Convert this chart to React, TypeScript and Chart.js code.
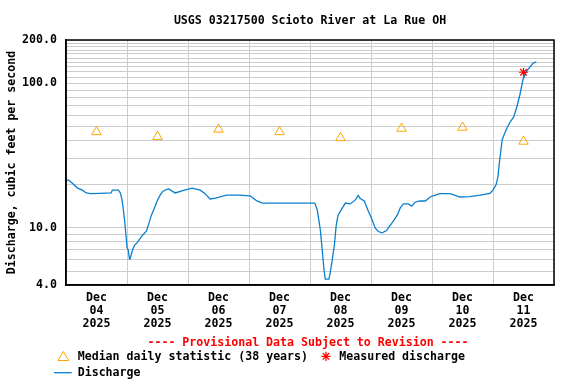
import React, { useEffect, useRef } from 'react';
import { Chart, registerables } from 'chart.js';

Chart.register(...registerables);

const TITLE = 'USGS 03217500 Scioto River at La Rue OH';
const Y_TITLE = 'Discharge, cubic feet per second';
const PROVISIONAL = '---- Provisional Data Subject to Revision ----';
const LEGEND_MEDIAN = 'Median daily statistic (38 years)';
const LEGEND_MEASURED = 'Measured discharge';
const LEGEND_DISCHARGE = 'Discharge';

const MONTH = 'Dec';
const YEAR = '2025';
const DAY_LABELS = ['04', '05', '06', '07', '08', '09', '10', '11'];

// time in days since Dec 04 2025 00:00
const DISCHARGE_T = [
  0.005, 0.04, 0.1, 0.19, 0.27, 0.33, 0.4, 0.56, 0.74, 0.76, 0.86, 0.89, 0.92, 0.96, 0.99, 1.0,
  1.02, 1.04, 1.05, 1.07, 1.09, 1.12, 1.17, 1.24, 1.27, 1.32, 1.35, 1.4, 1.45, 1.5, 1.55, 1.59,
  1.68, 1.74, 1.79, 1.94, 2.07, 2.2, 2.28, 2.36, 2.45, 2.63, 2.82, 3.02, 3.13, 3.22, 3.51, 3.84,
  4.08, 4.12, 4.17, 4.2, 4.23, 4.25, 4.31, 4.33, 4.36, 4.4, 4.43, 4.46, 4.53, 4.58, 4.66, 4.74,
  4.79, 4.82, 4.89, 4.95, 5.02, 5.07, 5.12, 5.18, 5.25, 5.31, 5.38, 5.43, 5.48, 5.53, 5.61, 5.67,
  5.72, 5.8, 5.89, 5.97, 6.05, 6.13, 6.3, 6.46, 6.62, 6.79, 6.95, 7.0, 7.05, 7.08, 7.1, 7.12,
  7.15, 7.18, 7.23, 7.28, 7.34, 7.39, 7.44, 7.49, 7.54, 7.61, 7.66, 7.71,
];
// discharge, cubic feet per second
const DISCHARGE_Q = [
  21.1, 21.4, 20.4, 18.8, 18.2, 17.4, 17.2, 17.3, 17.4, 18.2, 18.2, 17.4, 15.5, 11.3, 8.2, 7.3,
  7.0, 6.06, 6.06, 6.5, 7.0, 7.5, 7.9, 8.7, 9.0, 9.5, 10.4, 12.2, 13.7, 15.5, 17.0, 17.9,
  18.6, 17.9, 17.4, 18.2, 18.8, 18.2, 17.2, 15.8, 16.0, 16.8, 16.8, 16.6, 15.3, 14.8, 14.8, 14.8,
  14.8, 13.2, 9.6, 7.0, 5.08, 4.4, 4.4, 4.84, 5.8, 7.6, 10.4, 12.2, 13.7, 14.8, 14.6, 15.5,
  16.7, 16.0, 15.3, 13.2, 11.3, 9.9, 9.4, 9.2, 9.5, 10.3, 11.3, 12.2, 13.7, 14.6, 14.6, 14.1,
  15.0, 15.3, 15.3, 16.3, 16.8, 17.2, 17.2, 16.3, 16.4, 16.8, 17.3, 18.2, 19.8, 22.4, 27.2, 31.9,
  40.5, 43.9, 49.1, 54.0, 58.5, 68.6, 83.1, 105.6, 120, 130.6, 138.5, 140.8,
];

const MEDIAN_T = [0.5, 1.5, 2.5, 3.5, 4.5, 5.5, 6.5, 7.5];
const MEDIAN_Q = [46.1, 42.7, 48.0, 46.1, 41.9, 48.7, 49.5, 39.6];

const MEASURED_T = [7.5];
const MEASURED_Q = [119.5];

const X_TICKS = [0, 0.5, 1, 1.5, 2, 2.5, 3, 3.5, 4, 4.5, 5, 5.5, 6, 6.5, 7, 7.5, 8];
const Y_GRID = [
  4, 5, 6, 7, 8, 9, 10, 20, 30, 40, 50, 60, 70, 80, 90, 100,
  110, 120, 130, 140, 150, 160, 170, 180, 190, 200,
];
const Y_LABELED = [4, 10, 100, 200];
const Y_LABELS = ['4.0', '10.0', '100.0', '200.0'];

const FAMILY = '"DejaVu Sans Mono", "Liberation Mono", monospace';
const FONT = 'bold 11.6px ' + FAMILY;
const GRID = '#cccccc';
const BLUE = '#0a7fd0';
const ORANGE = '#ffa500';
const RED = '#ff0000';

const decorPlugin = {
  id: 'decor',
  afterDraw(chart: any) {
    const { ctx, chartArea: a } = chart;
    ctx.save();
    ctx.strokeStyle = '#000';
    ctx.lineWidth = 1.5;
    ctx.strokeRect(a.left, a.top, a.right - a.left, a.bottom - a.top);

    const cx = (a.left + a.right) / 2;
    ctx.font = FONT;
    ctx.textBaseline = 'middle';
    ctx.textAlign = 'center';
    ctx.fillStyle = '#000';
    ctx.fillText(TITLE, cx, 20.5);
    ctx.fillStyle = RED;
    ctx.fillText(PROVISIONAL, cx - 2, 342.7);

    // legend
    ctx.textAlign = 'left';
    ctx.fillStyle = '#000';
    ctx.fillText(LEGEND_MEDIAN, 77.7, 357);
    ctx.fillText(LEGEND_MEASURED, 339.3, 357);
    ctx.fillText(LEGEND_DISCHARGE, 77.7, 373);

    // triangle symbol
    ctx.strokeStyle = ORANGE;
    ctx.lineWidth = 1;
    ctx.beginPath();
    ctx.moveTo(63.3, 351.5);
    ctx.lineTo(68.8, 360.5);
    ctx.lineTo(57.8, 360.5);
    ctx.closePath();
    ctx.stroke();

    // asterisk symbol
    ctx.strokeStyle = RED;
    ctx.lineWidth = 1.2;
    const sx = 326, sy = 356.3, r = 4.6;
    ctx.beginPath();
    ctx.moveTo(sx, sy - r); ctx.lineTo(sx, sy + r);
    ctx.moveTo(sx - r, sy); ctx.lineTo(sx + r, sy);
    const d = r * Math.SQRT1_2;
    ctx.moveTo(sx - d, sy - d); ctx.lineTo(sx + d, sy + d);
    ctx.moveTo(sx - d, sy + d); ctx.lineTo(sx + d, sy - d);
    ctx.stroke();

    // line symbol
    ctx.strokeStyle = BLUE;
    ctx.lineWidth = 1.3;
    ctx.beginPath();
    ctx.moveTo(54, 372.7);
    ctx.lineTo(71.7, 372.7);
    ctx.stroke();
    ctx.restore();
  },
};

export default function App() {
  const ref = useRef<HTMLCanvasElement>(null);

  useEffect(() => {
    document.body.style.margin = '0';
    const canvas = ref.current;
    if (!canvas) return;

    const chart = new Chart(canvas, {
      type: 'line',
      data: {
        datasets: [
          {
            label: LEGEND_MEASURED,
            data: MEASURED_T.map((t, i) => ({ x: t, y: MEASURED_Q[i] })),
            showLine: false,
            pointStyle: 'star',
            pointRadius: 4.6,
            borderColor: RED,
            backgroundColor: RED,
            pointBorderWidth: 1.2,
            order: 0,
          },
          {
            label: LEGEND_MEDIAN,
            data: MEDIAN_T.map((t, i) => ({ x: t, y: MEDIAN_Q[i] })),
            showLine: false,
            pointStyle: 'triangle',
            pointRadius: 5.5,
            borderColor: ORANGE,
            backgroundColor: 'rgba(0,0,0,0)',
            pointBorderWidth: 1,
            order: 1,
          },
          {
            label: LEGEND_DISCHARGE,
            data: DISCHARGE_T.map((t, i) => ({ x: t, y: DISCHARGE_Q[i] })),
            borderColor: BLUE,
            borderWidth: 1.3,
            pointRadius: 0,
            tension: 0,
            fill: false,
            order: 2,
          },
        ],
      },
      options: {
        animation: false,
        responsive: false,
        maintainAspectRatio: false,
        layout: { padding: { top: 40, right: 22, bottom: 0, left: 0 } },
        plugins: {
          legend: { display: false },
          title: { display: false },
          tooltip: { enabled: false },
        },
        scales: {
          x: {
            type: 'linear',
            min: 0,
            max: 8,
            afterBuildTicks: (scale: any) => {
              scale.ticks = X_TICKS.map((v) => ({ value: v }));
            },
            afterFit: (scale: any) => {
              scale.height = 99;
            },
            grid: {
              drawTicks: false,
              color: (c: any) =>
                c.tick && Number.isInteger(c.tick.value) ? GRID : 'rgba(0,0,0,0)',
              lineWidth: 1,
            },
            border: { display: true, color: '#000', width: 1.5 },
            ticks: {
              autoSkip: false,
              maxRotation: 0,
              minRotation: 0,
              padding: 6.5,
              color: '#000',
              font: { family: FAMILY, size: 11.6, weight: 'bold', lineHeight: '13px' },
              callback: (v: any) => {
                const n = Number(v);
                if (Number.isInteger(n)) return '';
                const idx = Math.floor(n);
                return [MONTH, DAY_LABELS[idx] ?? '', YEAR];
              },
            },
          },
          y: {
            type: 'logarithmic',
            min: 4,
            max: 200,
            afterBuildTicks: (scale: any) => {
              scale.ticks = Y_GRID.map((v) => ({ value: v }));
            },
            afterFit: (scale: any) => {
              scale.width = 66;
            },
            grid: { drawTicks: false, color: GRID, lineWidth: 1 },
            border: { display: true, color: '#000', width: 1.5 },
            title: {
              display: true,
              text: Y_TITLE,
              color: '#000',
              font: { family: FAMILY, size: 11.6, weight: 'bold', lineHeight: '13px' },
              padding: { top: 5, bottom: 0 },
            },
            ticks: {
              autoSkip: false,
              padding: 9,
              color: '#000',
              font: { family: FAMILY, size: 11.6, weight: 'bold', lineHeight: '13px' },
              callback: (v: any) => {
                const i = Y_LABELED.indexOf(Number(v));
                return i >= 0 ? Y_LABELS[i] : '';
              },
            },
          },
        },
      },
      plugins: [decorPlugin],
    } as any);

    return () => chart.destroy();
  }, []);

  return (
    <div style={{ width: 576, height: 384 }}>
      <canvas ref={ref} width={576} height={384} style={{ display: 'block' }} />
    </div>
  );
}
